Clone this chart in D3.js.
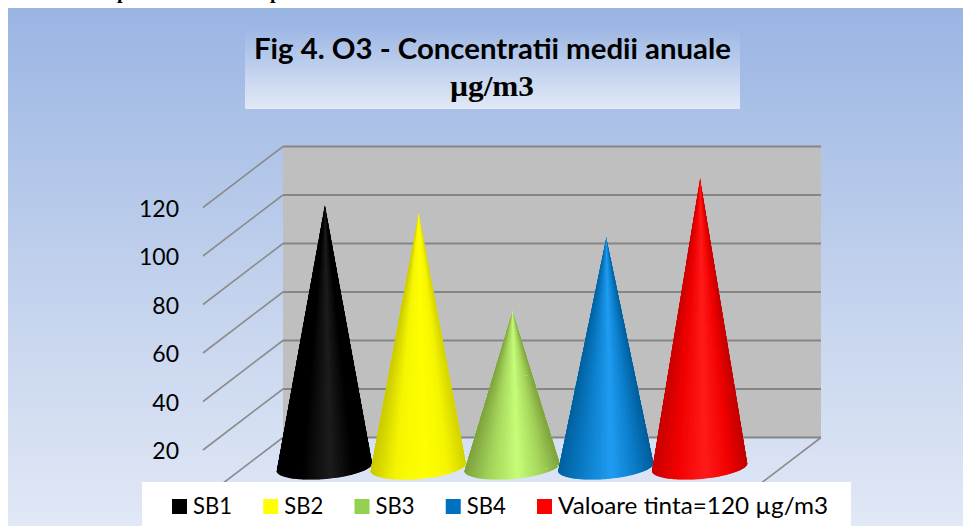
<!DOCTYPE html>
<html>
<head>
<meta charset="utf-8">
<script src="https://cdn.jsdelivr.net/npm/d3@7"></script>
<style>
  html, body { margin: 0; padding: 0; background: #fff; overflow: hidden; }
  svg { display: block; }
  text { font-family: Lato, sans-serif; fill: #000; }
</style>
</head>
<body>
<div id="chart"></div>
<script>
// Chart data
const categories = ["SB1", "SB2", "SB3", "SB4", "Valoare tinta=120 µg/m3"];
const values = [109, 105.5, 65, 95.5, 120];
const gridValues = [0, 20, 40, 60, 80, 100, 120];
const tickLabels = [20, 40, 60, 80, 100, 120];
const titleLines = ["Fig 4. O3 - Concentratii medii anuale", "µg/m3"];

// Colours, one list per cone: left edge to right edge
const legendColors = ["#000000", "#ffff00", "#92d050", "#0070c0", "#ff0000"];
const coneShades = [
    ["#000000", "#000000", "#1c1c1c", "#000000", "#000000"],
    ["#c9c900", "#f5f500", "#ffff00", "#f5f500", "#d2d200"],
    ["#7da23c", "#a4d45a", "#c6fd78", "#a4d45a", "#7da23c"],
    ["#00609f", "#0a7cc8", "#1f9cf2", "#0a7cc8", "#005c9a"],
    ["#c80000", "#f20000", "#ff1a1a", "#f20000", "#c00000"]
];
const shadeStops = [0, 0.25, 0.55, 0.8, 1];

const width = 963;
const height = 526;

// Oblique offset between the back wall and the front of the chart
const depthX = -80;
const depthY = 61;

const yWall = d3.scaleLinear().domain([0, 120]).range([437.5, 146.5]);
const yFront = d3.scaleLinear().domain([0, 120]).range([437.5 + depthY, 146.5 + depthY]);
const yMid = d3.scaleLinear().domain([0, 120]).range([437.5 + depthY / 2, 146.5 + depthY / 2]);
const x = d3.scaleBand().domain(categories).range([277.5, 746.5]);

const svg = d3.select("#chart")
    .append("svg")
    .attr("width", width)
    .attr("height", height);

const defs = svg.append("defs");

const bgGrad = defs.append("linearGradient")
    .attr("id", "bgGrad")
    .attr("x1", 0).attr("y1", 0).attr("x2", 0).attr("y2", 1);
bgGrad.append("stop").attr("offset", 0).attr("stop-color", "#9ab5e3");
bgGrad.append("stop").attr("offset", 0.5).attr("stop-color", "#c0d0ec");
bgGrad.append("stop").attr("offset", 1).attr("stop-color", "#e1e8f6");

const titleGrad = defs.append("linearGradient")
    .attr("id", "titleGrad")
    .attr("x1", 0).attr("y1", 0).attr("x2", 0).attr("y2", 1);
titleGrad.append("stop").attr("offset", 0).attr("stop-color", "#a0b9e5");
titleGrad.append("stop").attr("offset", 1).attr("stop-color", "#e2e9f6");

// Descenders of the cropped line of text above the chart
svg.selectAll(".cropped")
    .data([117, 270])
    .enter().append("text")
    .attr("class", "cropped")
    .attr("x", d => d)
    .attr("y", -2)
    .style("font-family", "'Liberation Serif', serif")
    .style("font-weight", 700)
    .style("font-size", "20px")
    .text("p");

// Chart background
svg.append("rect")
    .attr("x", 8).attr("y", 8)
    .attr("width", width - 8).attr("height", height - 8)
    .attr("fill", "url(#bgGrad)");

// Title box
svg.append("rect")
    .attr("x", 245).attr("y", 31)
    .attr("width", 495).attr("height", 78)
    .attr("fill", "url(#titleGrad)");

svg.append("text")
    .attr("x", 254).attr("y", 59)
    .attr("textLength", 477)
    .attr("lengthAdjust", "spacingAndGlyphs")
    .style("font-weight", 700)
    .style("font-size", "28px")
    .text(titleLines[0]);

svg.append("text")
    .attr("x", 450).attr("y", 96)
    .attr("textLength", 84)
    .attr("lengthAdjust", "spacingAndGlyphs")
    .style("font-family", "'Liberation Serif', serif")
    .style("font-weight", 700)
    .style("font-size", "29px")
    .text(titleLines[1]);

// Back wall
svg.append("rect")
    .attr("x", 283).attr("y", yWall(120))
    .attr("width", 538).attr("height", yWall(0) - yWall(120))
    .attr("fill", "#bfbfbf");

// Grid lines on the wall and on the side
svg.selectAll(".wallLine")
    .data(gridValues)
    .enter().append("line")
    .attr("class", "wallLine")
    .attr("x1", 283).attr("x2", 821)
    .attr("y1", d => yWall(d)).attr("y2", d => yWall(d))
    .attr("stroke", "#868686")
    .attr("stroke-width", 1.8);

svg.selectAll(".sideLine")
    .data(gridValues)
    .enter().append("line")
    .attr("class", "sideLine")
    .attr("x1", 283).attr("x2", 283 + depthX)
    .attr("y1", d => yWall(d)).attr("y2", d => yFront(d))
    .attr("stroke", "#8c8c8c")
    .attr("stroke-width", 1.6);

// Floor edge on the right
svg.append("line")
    .attr("x1", 821).attr("x2", 821 + depthX)
    .attr("y1", yWall(0)).attr("y2", yFront(0))
    .attr("stroke", "#8c8c8c")
    .attr("stroke-width", 1.6);

// Value axis, labels only
const axis = svg.append("g")
    .attr("transform", "translate(179,0)")
    .call(d3.axisLeft(yFront)
        .tickValues(tickLabels)
        .tickSize(0)
        .tickPadding(0));
axis.select(".domain").remove();
axis.selectAll("text")
    .attr("dy", "0.38em")
    .style("font-family", "Lato, sans-serif")
    .style("font-size", "23px");

// Cones: one thin wedge per step round the front of the base, clipped to the outline
const steps = 70;
const tilt = -4.8 * Math.PI / 180;
const rx = x.bandwidth() * 0.513;
const ry = 12;
const baseY = yMid(0) - 1;

categories.forEach((cat, i) => {
    const cx = x(cat) + x.bandwidth() / 2;
    const tipX = cx + 0.5;
    const tipY = yMid(values[i]);
    const shade = d3.scaleLinear().domain(shadeStops).range(coneShades[i]);
    const basePoint = a => {
        const ex = rx * Math.cos(a);
        const ey = ry * Math.sin(a);
        return [
            cx + ex * Math.cos(tilt) - ey * Math.sin(tilt),
            baseY + ex * Math.sin(tilt) + ey * Math.cos(tilt)
        ];
    };
    const angles = d3.range(steps + 1).map(k => Math.PI - Math.PI * k / steps);
    const outline = d3.line()([[tipX, tipY], ...angles.map(basePoint)]) + "Z";

    defs.append("clipPath")
        .attr("id", "coneClip" + i)
        .append("path")
        .attr("d", outline);

    const g = svg.append("g")
        .attr("class", "cone")
        .attr("clip-path", `url(#coneClip${i})`);

    g.append("path")
        .attr("d", outline)
        .attr("fill", shade(0.5));

    d3.pairs(angles).forEach(([a0, a1]) => {
        // wedge sticks out past the base a little, the clip trims it
        const scale = 1.05;
        const p0 = basePoint(a0).map((v, k) => [tipX, tipY][k] + (v - [tipX, tipY][k]) * scale);
        const p1 = basePoint(a1).map((v, k) => [tipX, tipY][k] + (v - [tipX, tipY][k]) * scale);
        g.append("path")
            .attr("d", d3.line()([[tipX, tipY], p0, p1]) + "Z")
            .attr("fill", shade((Math.cos((a0 + a1) / 2) + 1) / 2))
            .attr("shape-rendering", "crispEdges");
    });
});

// Legend
svg.append("rect")
    .attr("x", 142).attr("y", 482)
    .attr("width", 709).attr("height", 44)
    .attr("fill", "#fff");

const legendX = d3.scalePoint().domain(categories).range([172, 537]);
const legendWidths = [39, 39, 39, 39, 270];

svg.selectAll(".swatch")
    .data(categories)
    .enter().append("rect")
    .attr("class", "swatch")
    .attr("x", d => legendX(d))
    .attr("y", 499)
    .attr("width", 15).attr("height", 15)
    .attr("fill", (d, i) => legendColors[i]);

svg.selectAll(".legendText")
    .data(categories)
    .enter().append("text")
    .attr("class", "legendText")
    .attr("x", d => legendX(d) + 21)
    .attr("y", 514)
    .attr("textLength", (d, i) => legendWidths[i])
    .attr("lengthAdjust", "spacingAndGlyphs")
    .style("font-size", "22.5px")
    .text(d => d);
</script>
</body>
</html>
